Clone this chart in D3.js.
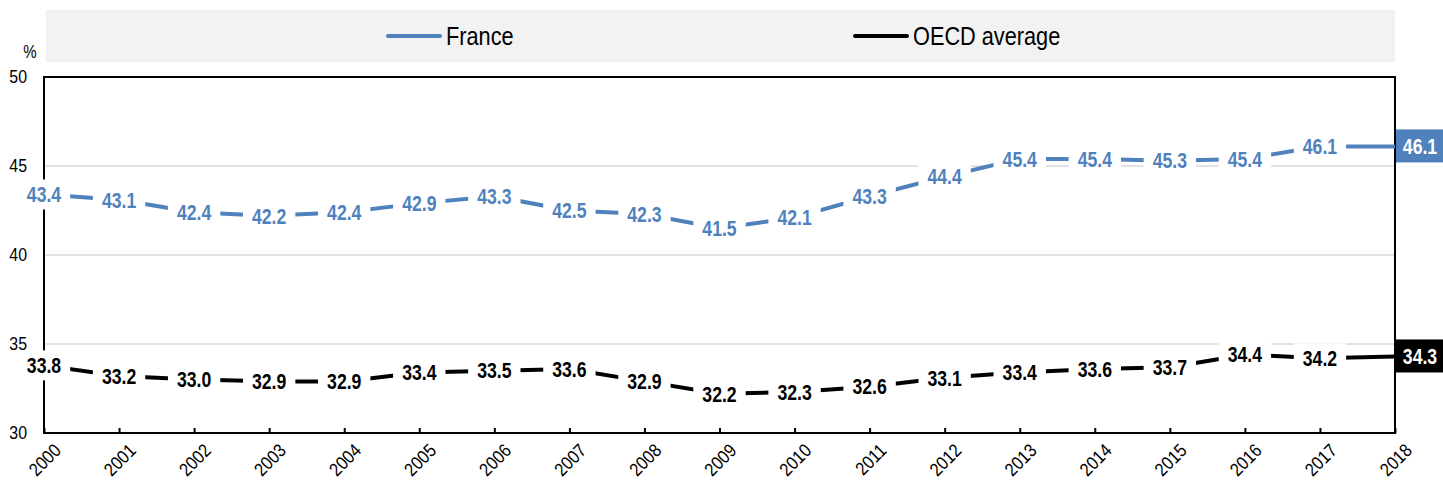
<!DOCTYPE html>
<html>
<head>
<meta charset="utf-8">
<script src="https://cdn.jsdelivr.net/npm/d3@7"></script>
<style>
  body { margin: 0; background: #fff; }
  svg { display: block; font-family: "Liberation Sans Narrow", "Arial Narrow", "Liberation Sans", Arial, sans-serif; }
</style>
</head>
<body>
<svg id="chart"></svg>
<script>
const width = 1443;
const height = 482;
const margin = {top: 77, right: 48, bottom: 49, left: 44};
const squeeze = 0.82; // no narrow font installed, so squash text horizontally

const years = d3.range(2000, 2019);
const france = [43.4, 43.1, 42.4, 42.2, 42.4, 42.9, 43.3, 42.5, 42.3, 41.5, 42.1, 43.3, 44.4, 45.4, 45.4, 45.3, 45.4, 46.1, 46.1];
const oecd = [33.8, 33.2, 33.0, 32.9, 32.9, 33.4, 33.5, 33.6, 32.9, 32.2, 32.3, 32.6, 33.1, 33.4, 33.6, 33.7, 34.4, 34.2, 34.3];
const yTicks = [30, 35, 40, 45, 50];

const series = [
  {name: "France", values: france, color: "#4f81bd", legendX: 388},
  {name: "OECD average", values: oecd, color: "#000000", legendX: 855}
];

const svg = d3.select('#chart')
    .attr('width', width).attr('height', height);

const x = d3.scaleLinear()
    .domain([2000, 2018])
    .range([margin.left, width - margin.right]);
const y = d3.scaleLinear()
    .domain([30, 50])
    .range([height - margin.bottom, margin.top]);

// put a squeezed text at (px, py)
function addText(parent, px, py, str, size, sx = squeeze) {
    return parent.append('text')
        .attr('transform', `translate(${px},${py}) scale(${sx},1)`)
        .attr('font-size', size)
        .text(str);
}

// legend
svg.append('rect')
    .attr('x', 46).attr('y', 10)
    .attr('width', x(2018) - 46).attr('height', 52)
    .attr('fill', '#f2f2f2');
series.forEach(s => {
    svg.append('line')
        .attr('x1', s.legendX).attr('x2', s.legendX + 52)
        .attr('y1', 36).attr('y2', 36)
        .attr('stroke', s.color).attr('stroke-width', 4)
        .attr('stroke-linecap', 'round');
    addText(svg, s.legendX + 58, 36, s.name, 26.5)
        .attr('dy', '0.35em');
});

// gridlines
svg.append('g')
    .selectAll('line')
    .data(yTicks.filter(d => d > 30 && d < 50))
    .join('line')
    .attr('x1', x(2000)).attr('x2', x(2018))
    .attr('y1', d => y(d)).attr('y2', d => y(d))
    .attr('stroke', '#d9d9d9').attr('stroke-width', 1.5);

// y axis labels
yTicks.forEach(t => {
    addText(svg, 27, y(t), t, 18.5, 0.86)
        .attr('dy', '0.35em')
        .attr('text-anchor', 'end');
});
addText(svg, 30, 58, '%', 17.5, 0.86)
    .attr('text-anchor', 'middle');

// x axis
const xAxis = d3.axisBottom(x)
    .tickValues(years)
    .tickFormat(d3.format('d'))
    .tickSizeInner(-5)
    .tickSizeOuter(0);
const gx = svg.append('g')
    .attr('transform', `translate(0,${y(30)})`)
    .call(xAxis);
gx.select('.domain').remove();
gx.selectAll('.tick line').attr('stroke', '#000').attr('stroke-width', 2);
gx.selectAll('.tick text')
    .attr('font-size', 18.5)
    .attr('fill', '#000')
    .attr('text-anchor', 'end')
    .attr('dy', null)
    .attr('y', 0)
    .attr('transform', `translate(8,9) rotate(-45) scale(0.88,1)`)
    .attr('dominant-baseline', 'hanging');
svg.selectAll('g').attr('font-family', null);

// frame
svg.append('rect')
    .attr('x', x(2000)).attr('y', y(50))
    .attr('width', x(2018) - x(2000)).attr('height', y(30) - y(50))
    .attr('fill', 'none').attr('stroke', '#000').attr('stroke-width', 2);

// lines
const line = d3.line()
    .x((d, i) => x(years[i]))
    .y(d => y(d));
series.forEach(s => {
    svg.append('path')
        .datum(s.values)
        .attr('d', line)
        .attr('fill', 'none')
        .attr('stroke', s.color)
        .attr('stroke-width', 4);
});

// data labels with white knock-out boxes
series.forEach(s => {
    const labels = svg.append('g')
        .selectAll('g')
        .data(s.values.slice(0, -1))
        .join('g')
        .attr('transform', (d, i) => `translate(${x(years[i])},${y(d)})`);
    const rects = labels.append('rect').attr('fill', '#fff');
    const texts = labels.append('text')
        .attr('transform', `scale(${squeeze},1)`)
        .attr('text-anchor', 'middle')
        .attr('dy', '0.36em')
        .attr('font-size', 21.5)
        .attr('font-weight', 'bold')
        .attr('fill', s.color)
        .text(d => d.toFixed(1));
    texts.each(function (d, i) {
        const w = this.getBBox().width * squeeze;
        d3.select(rects.nodes()[i])
            .attr('x', -w / 2 - 9).attr('y', -15)
            .attr('width', w + 18).attr('height', 30);
    });
});

// end labels
series.forEach(s => {
    const v = s.values[s.values.length - 1];
    svg.append('rect')
        .attr('x', x(2018) + 1).attr('y', y(v) - 17)
        .attr('width', 50).attr('height', 33)
        .attr('fill', s.color);
    addText(svg, x(2018) + 25, y(v), v.toFixed(1), 21.5)
        .attr('dy', '0.36em')
        .attr('text-anchor', 'middle')
        .attr('font-weight', 'bold')
        .attr('fill', '#fff');
});
</script>
</body>
</html>
